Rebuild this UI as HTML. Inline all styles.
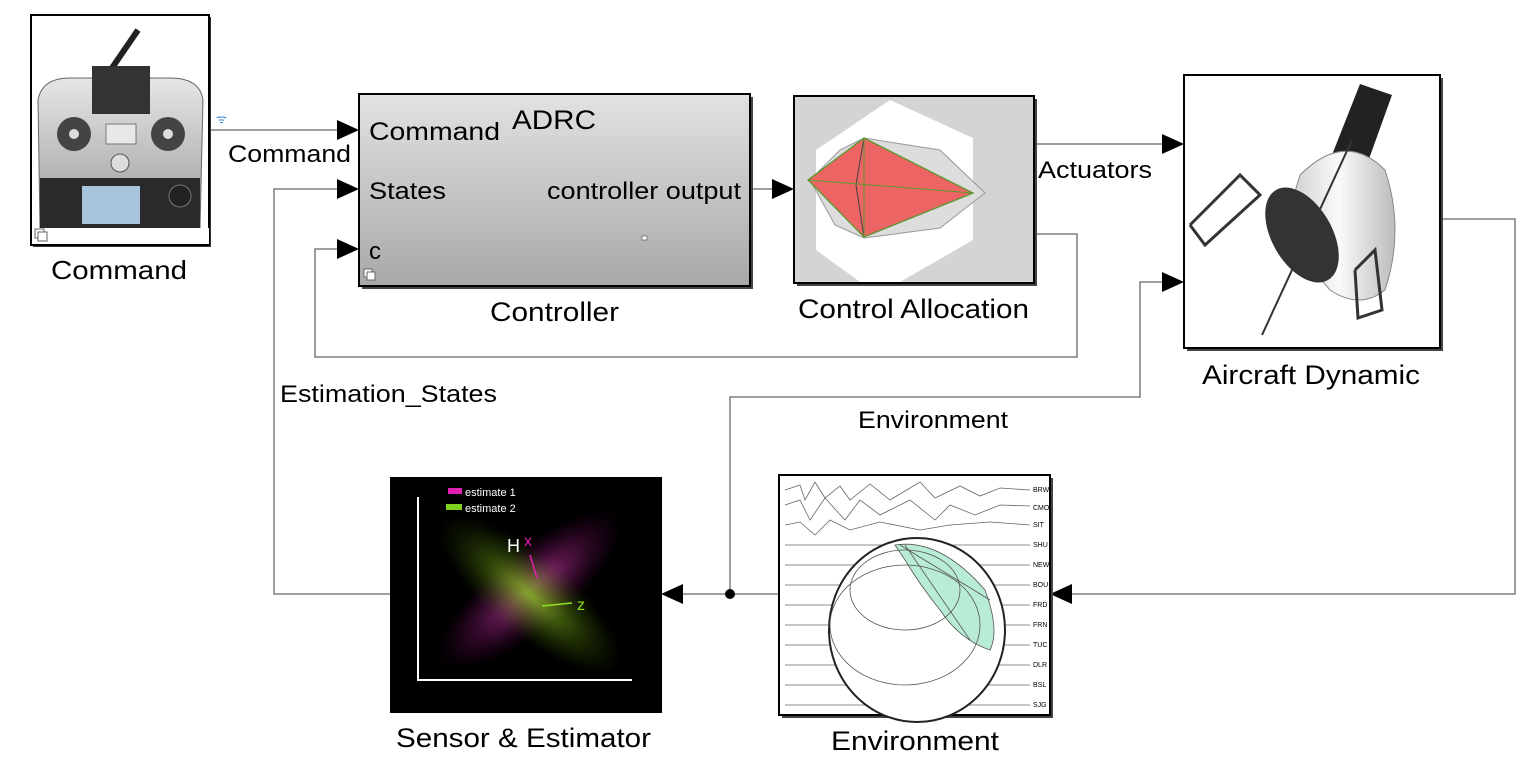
<!DOCTYPE html>
<html><head><meta charset="utf-8"><style>
html,body{margin:0;padding:0;background:#fff;}
svg{display:block;}
text{font-family:"Liberation Sans",Arial,sans-serif;fill:#000;}
</style></head><body>
<svg width="1527" height="759" viewBox="0 0 1527 759" xmlns="http://www.w3.org/2000/svg">
<defs>
<linearGradient id="ctl" x1="0" y1="0" x2="0" y2="1"><stop offset="0" stop-color="#e2e2e2"/><stop offset="1" stop-color="#a8a8a8"/></linearGradient>
<radialGradient id="mag" cx="0.5" cy="0.5" r="0.5"><stop offset="0" stop-color="#c040a0" stop-opacity="0.9"/><stop offset="1" stop-color="#600050" stop-opacity="0"/></radialGradient>
<radialGradient id="grn" cx="0.5" cy="0.5" r="0.5"><stop offset="0" stop-color="#80b020" stop-opacity="0.9"/><stop offset="1" stop-color="#305000" stop-opacity="0"/></radialGradient>
<linearGradient id="bod" x1="0" y1="0" x2="1" y2="0"><stop offset="0" stop-color="#c8c8c8"/><stop offset="0.5" stop-color="#fafafa"/><stop offset="1" stop-color="#bcbcbc"/></linearGradient>
<linearGradient id="silver" x1="0" y1="0" x2="0" y2="1"><stop offset="0" stop-color="#e6e6e6"/><stop offset="1" stop-color="#9a9a9a"/></linearGradient>
</defs>
<g stroke="#666" stroke-width="1.3" fill="none">
<line x1="210" y1="130" x2="340" y2="130"/>
<line x1="750" y1="189" x2="775" y2="189"/>
<line x1="1034" y1="144" x2="1165" y2="144"/>
<polyline points="1034,234 1077,234 1077,357 315,357 315,249 340,249"/>
<polyline points="390,594 274,594 274,189 340,189"/>
<polyline points="779,594 680,594"/>
<polyline points="730,594 730,397 1140,397 1140,282 1165,282"/>
<polyline points="1440,219 1515,219 1515,594 1072,594"/>
</g>
<g fill="#000">
<polygon points="337,120 359,130 337,140"/>
<polygon points="337,179 359,189 337,199"/>
<polygon points="337,239 359,249 337,259"/>
<polygon points="772,179 794,189 772,199"/>
<polygon points="1162,134 1184,144 1162,154"/>
<polygon points="1162,272 1184,282 1162,292"/>
<polygon points="1072,584 1050,594 1072,604"/>
<polygon points="683,584 661,594 683,604"/>
<circle cx="730" cy="594" r="5"/>
</g>
<!-- Command block -->
<rect x="33" y="17" width="178" height="230" fill="#333"/>
<rect x="31" y="15" width="178" height="230" fill="#fff" stroke="#000" stroke-width="2"/>
<line x1="112" y1="68" x2="138" y2="30" stroke="#222" stroke-width="6"/>
<path d="M38 100 Q42 78 70 78 L170 78 Q200 78 203 100 L200 228 L40 228 Z" fill="url(#silver)" stroke="#666"/>
<rect x="92" y="66" width="58" height="48" fill="#333"/>
<circle cx="74" cy="134" r="17" fill="#444"/><circle cx="168" cy="134" r="17" fill="#444"/>
<circle cx="74" cy="134" r="5" fill="#ddd"/><circle cx="168" cy="134" r="5" fill="#ddd"/>
<rect x="106" y="124" width="30" height="20" fill="#e8e8e8" stroke="#777"/>
<circle cx="120" cy="163" r="9" fill="#ddd" stroke="#555"/>
<rect x="40" y="178" width="160" height="50" fill="#2a2a2a"/>
<rect x="82" y="186" width="58" height="38" fill="#a8c4dc"/>
<circle cx="180" cy="196" r="11" fill="#222" stroke="#777"/>
<rect x="33" y="228" width="176" height="16" fill="#fff"/>
<rect x="35" y="229" width="9" height="9" fill="#fff" stroke="#666"/><rect x="38" y="232" width="9" height="9" fill="#fff" stroke="#666"/>
<text x="216" y="123" font-size="12" style="fill:#3a80d0">ᯤ</text>
<text x="51" y="279" font-size="26" textLength="136" lengthAdjust="spacingAndGlyphs">Command</text>
<text x="228" y="162" font-size="24" textLength="123" lengthAdjust="spacingAndGlyphs">Command</text>
<!-- Controller -->
<rect x="362" y="97" width="391" height="192" fill="#444"/>
<rect x="359" y="94" width="391" height="192" fill="url(#ctl)" stroke="#000" stroke-width="2"/>
<text x="369" y="140" font-size="25" textLength="131" lengthAdjust="spacingAndGlyphs">Command</text>
<text x="512" y="129" font-size="27" textLength="84" lengthAdjust="spacingAndGlyphs">ADRC</text>
<text x="369" y="199" font-size="24" textLength="77" lengthAdjust="spacingAndGlyphs">States</text>
<text x="547" y="199" font-size="24" textLength="194" lengthAdjust="spacingAndGlyphs">controller output</text>
<text x="369" y="259" font-size="24">c</text>
<rect x="642" y="236" width="5" height="4" fill="#fff" stroke="#666" stroke-width="0.8"/>
<rect x="364" y="269" width="8" height="8" fill="#fff" stroke="#666"/><rect x="367" y="272" width="8" height="8" fill="#fff" stroke="#666"/>
<text x="490" y="321" font-size="27" textLength="129" lengthAdjust="spacingAndGlyphs">Controller</text>
<!-- Control Allocation -->
<rect x="797" y="99" width="240" height="187" fill="#444"/>
<rect x="794" y="96" width="240" height="187" fill="#d4d4d4" stroke="#000" stroke-width="2"/>
<polygon points="890,100 973,138 973,240 900,282 860,282 816,250 816,150" fill="#fff"/>
<polygon points="840,150 864,138 940,150 985,193 940,228 864,238 835,225 810,180" fill="#ddd" stroke="#999"/>
<polygon points="864,138 973,193 864,237 808,180" fill="#ec6464" stroke="#5a9a30" stroke-width="1.3"/>
<polyline points="864,138 856,185 864,237" fill="none" stroke="#444"/>
<line x1="808" y1="180" x2="973" y2="193" stroke="#5a9a30"/>
<line x1="864" y1="138" x2="864" y2="237" stroke="#5a9a30"/>
<text x="798" y="318" font-size="27" textLength="231" lengthAdjust="spacingAndGlyphs">Control Allocation</text>
<text x="1038" y="178" font-size="24" textLength="114" lengthAdjust="spacingAndGlyphs">Actuators</text>
<!-- Aircraft -->
<rect x="1187" y="78" width="256" height="273" fill="#444"/>
<rect x="1184" y="75" width="256" height="273" fill="#fff" stroke="#000" stroke-width="2"/>
<polygon points="1360,84 1392,95 1365,170 1330,160" fill="#222"/>
<path d="M1300 175 Q1345 130 1385 170 Q1405 230 1385 290 Q1360 310 1330 290 L1282 235 Z" fill="url(#bod)" stroke="#888"/>
<ellipse cx="1302" cy="235" rx="30" ry="52" fill="#333" transform="rotate(-30 1302 235)"/>
<polyline points="1190,225 1240,175 1260,195 1205,245 1190,225" fill="none" stroke="#333" stroke-width="3"/>
<polyline points="1355,270 1375,250 1382,310 1358,318 1355,270" fill="none" stroke="#333" stroke-width="3"/>
<line x1="1262" y1="335" x2="1352" y2="140" stroke="#333" stroke-width="2"/>
<text x="1202" y="384" font-size="27" textLength="218" lengthAdjust="spacingAndGlyphs">Aircraft Dynamic</text>
<text x="280" y="402" font-size="24" textLength="217" lengthAdjust="spacingAndGlyphs">Estimation_States</text>
<text x="858" y="428" font-size="24" textLength="150" lengthAdjust="spacingAndGlyphs">Environment</text>
<!-- Sensor -->
<rect x="390" y="477" width="272" height="236" fill="#000"/>
<ellipse cx="530" cy="590" rx="115" ry="40" fill="url(#mag)" transform="rotate(-40 530 590)"/>
<ellipse cx="530" cy="595" rx="115" ry="40" fill="url(#grn)" transform="rotate(40 530 595)"/>
<polyline points="418,497 418,680 632,680" fill="none" stroke="#fff" stroke-width="2"/>
<text x="465" y="496" font-size="11" style="fill:#fff">estimate 1</text>
<text x="465" y="512" font-size="11" style="fill:#fff">estimate 2</text>
<rect x="448" y="488" width="14" height="6" fill="#e020b0"/><rect x="446" y="504" width="16" height="6" fill="#80d020"/>
<text x="507" y="552" font-size="18" style="fill:#fff">H</text>
<text x="524" y="546" font-size="16" style="fill:#e020b0">x</text>
<line x1="530" y1="555" x2="537" y2="578" stroke="#e020b0" stroke-width="1.5"/>
<text x="577" y="610" font-size="16" style="fill:#90e020">z</text>
<line x1="542" y1="606" x2="572" y2="603" stroke="#90e020" stroke-width="1.5"/>
<text x="396" y="747" font-size="27" textLength="255" lengthAdjust="spacingAndGlyphs">Sensor &amp; Estimator</text>
<!-- Environment -->
<rect x="782" y="478" width="271" height="240" fill="#444"/>
<rect x="779" y="475" width="271" height="240" fill="#fff" stroke="#000" stroke-width="2"/>
<g stroke="#666" fill="none" stroke-width="0.8">
<polyline points="785,490 800,485 805,500 815,482 825,498 840,486 850,500 870,484 890,500 920,482 935,498 960,486 980,496 1000,488 1030,490"/>
<polyline points="785,505 800,500 810,520 825,498 845,520 860,500 880,515 910,500 935,520 950,505 975,515 1000,505 1030,506"/>
<polyline points="785,525 800,522 815,535 830,520 850,530 880,522 920,530 950,525 990,522 1030,525"/>
<polyline points="785,545 1030,545"/><polyline points="785,565 1030,565"/><polyline points="785,585 1030,585"/>
<polyline points="785,605 1030,605"/><polyline points="785,625 1030,625"/><polyline points="785,645 1030,645"/><polyline points="785,665 1030,665"/><polyline points="785,685 1030,685"/><polyline points="785,705 1030,705"/>
</g>
<ellipse cx="917" cy="630" rx="88" ry="92" fill="#fff" stroke="#222" stroke-width="2"/>
<path d="M895 545 Q940 538 985 590 Q1000 630 990 650 Q960 640 940 610 Q920 585 905 560 Z" fill="#b8ecd4" stroke="#555" stroke-width="0.8"/>
<g stroke="#555" fill="none" stroke-width="0.8"><ellipse cx="905" cy="590" rx="55" ry="40"/><ellipse cx="905" cy="625" rx="75" ry="60"/><line x1="900" y1="545" x2="990" y2="600"/><line x1="905" y1="545" x2="970" y2="640"/></g>
<g font-size="7"><text x="1033" y="492">BRW</text><text x="1033" y="510">CMO</text><text x="1033" y="527">SIT</text><text x="1033" y="547">SHU</text><text x="1033" y="567">NEW</text><text x="1033" y="587">BOU</text><text x="1033" y="607">FRD</text><text x="1033" y="627">FRN</text><text x="1033" y="647">TUC</text><text x="1033" y="667">DLR</text><text x="1033" y="687">BSL</text><text x="1033" y="707">SJG</text></g>
<text x="831" y="750" font-size="27" textLength="168" lengthAdjust="spacingAndGlyphs">Environment</text>
</svg>
</body></html>
